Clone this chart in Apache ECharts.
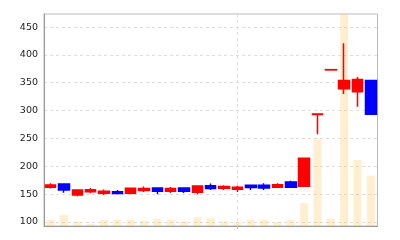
<!DOCTYPE html>
<html>
<head>
<meta charset="utf-8">
<script src="https://cdn.jsdelivr.net/npm/echarts@6/dist/echarts.min.js"></script>
<style>
html,body{margin:0;padding:0;background:#fff;}
#c{width:400px;height:240px;}
</style>
</head>
<body>
<div id="c"></div>
<script>
const categories = ['1','2','3','4','5','6','7','8','9','10','11','12','13','14','15','16','17','18','19','20','21','22','23','24','25'];
const opens  = [162.5, 168, 148.5, 154.5, 151.5, 154.5, 151.5, 156.5, 161, 155, 161, 153.5, 165, 160.5, 159, 166, 166, 162.5, 172, 164, 293, 373, 339, 334, 354];
const closes = [166.5, 157.5, 157.5, 158, 155, 151, 160.5, 160, 155, 160, 155, 164.5, 160, 163.5, 162.5, 162, 161, 167, 162.5, 214.5, 294, 373.5, 354, 356, 293.5];
const lows   = [160, 152.5, 146, 151.5, 148.5, 150, 150, 154, 150, 152, 152, 150, 157.5, 157.5, 154, 157.5, 157.5, 162, 161.5, 163.5, 257.5, 373, 330, 307, 293.5];
const highs  = [169.5, 169, 159, 161, 158.5, 157.5, 161, 163.5, 161, 163, 161, 166, 169, 166, 165, 167, 169.5, 169.5, 174, 215, 294, 373.5, 421, 360.5, 354];
const volumes = [60, 110, 43, 23, 60, 63, 63, 50, 70, 60, 47, 87, 77, 47, 37, 60, 60, 40, 60, 227, 867, 73, 2120, 660, 503];
const yTicks = [100, 150, 200, 250, 300, 350, 400, 450];
const markedIndex = 14;

const ohlc = categories.map((c, i) => [opens[i], closes[i], lows[i], highs[i]]);

const chart = echarts.init(document.getElementById('c'), null, {renderer: 'canvas'});
chart.setOption({
  animation: false,
  backgroundColor: '#ffffff',
  grid: {left: 44, top: 14, right: 22.5, bottom: 14, show: true, borderColor: '#bbbbbb', borderWidth: 1, containLabel: false},
  xAxis: {
    type: 'category',
    data: categories,
    boundaryGap: true,
    axisLine: {show: true, lineStyle: {color: '#999999', width: 1}},
    axisTick: {show: true, alignWithLabel: true, length: 3, interval: (i) => i === markedIndex, lineStyle: {color: '#bbbbbb'}},
    axisLabel: {show: false},
    splitLine: {show: true, alignWithLabel: true, interval: (i) => i === markedIndex, lineStyle: {color: '#dddddd', type: [3, 3], width: 1}}
  },
  yAxis: [{
    type: 'value',
    min: 92.8,
    max: 473.4,
    axisLine: {show: true, lineStyle: {color: '#999999', width: 1}},
    axisTick: {show: false, customValues: yTicks},
    axisLabel: {customValues: yTicks, color: '#222222', fontFamily: 'DejaVu Sans', fontSize: 9.5, margin: 6},
    splitLine: {show: true, lineStyle: {color: '#dddddd', type: [3, 3], width: 1}}
  }, {
    type: 'value',
    min: 0,
    max: 2120,
    show: false,
    splitLine: {show: false}
  }],
  series: [{
    type: 'bar',
    yAxisIndex: 1,
    data: volumes,
    barWidth: 8,
    itemStyle: {color: 'rgba(255, 200, 100, 0.3)'},
    z: 1
  }, {
    type: 'candlestick',
    yAxisIndex: 0,
    data: ohlc,
    barWidth: 11,
    itemStyle: {color: '#ff0000', color0: '#0000ff', borderColor: '#ff0000', borderColor0: '#0000ff', borderWidth: 1.5},
    z: 3
  }]
});
</script>
</body>
</html>
